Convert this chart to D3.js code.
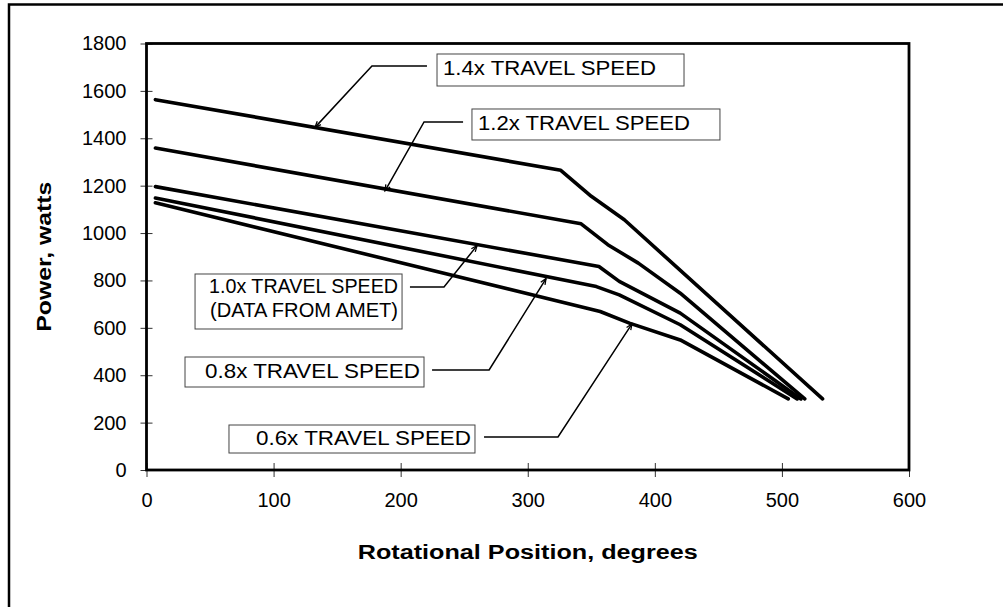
<!DOCTYPE html>
<html lang="en">
<head>
    <meta charset="utf-8">
    <title>Power vs Rotational Position</title>
    <script src="https://d3js.org/d3.v7.min.js"></script>
    <style>
        body { margin: 0; background: #fff; }
        text { font-family: "Liberation Sans", Arial, sans-serif; fill: #000; }
    </style>
</head>

<body>
    <script type="text/javascript">
        // data: [rotational position (deg), power (W)]
        var speed14 = [[7, 1563], [326, 1265], [350, 1155], [376, 1056], [532, 300]];
        var speed12 = [[7, 1359], [342, 1039], [363, 951], [387, 873], [420, 746], [518, 300]];
        var speed10 = [[7, 1196], [356, 859], [372, 796], [420, 662], [515, 300]];
        var speed08 = [[7, 1148], [354, 774], [372, 739], [420, 613], [512, 300]];
        var speed06 = [[7, 1128], [357, 669], [380, 620], [420, 549], [505, 300]];

        var xTicks = [0, 100, 200, 300, 400, 500, 600];
        var yTicks = [0, 200, 400, 600, 800, 1000, 1200, 1400, 1600, 1800];

        // callout boxes and leaders, in data units
        var callouts = [
            { lines: ["1.4x TRAVEL SPEED"], at: [228.6, 1755.7], w: 247, h: 32, align: "start", len: [213], base: [21],
              leader: [[220.7, 1705], [177.4, 1705], [132.6, 1446]] },
            { lines: ["1.2x TRAVEL SPEED"], at: [256.1, 1523.6], w: 248, h: 31, align: "start", len: [212], base: [21],
              leader: [[249.1, 1468.7], [218.4, 1468.7], [187.7, 1178]] },
            { lines: ["1.0x TRAVEL SPEED", "(DATA FROM AMET)"], at: [38.2, 827.2], w: 207, h: 55, align: "end", len: [189, 188], base: [19, 43],
              leader: [[207.3, 772.4], [234.1, 772.4], [260.1, 947]] },
            { lines: ["0.8x TRAVEL SPEED"], at: [30.3, 476.9], w: 239, h: 30, align: "end", len: [215], base: [21],
              leader: [[224.7, 422], [269.6, 422], [314.4, 808]] },
            { lines: ["0.6x TRAVEL SPEED"], at: [64.9, 189.9], w: 246, h: 28, align: "end", len: [215], base: [20],
              leader: [[265.6, 139.3], [323.8, 139.3], [382, 617]] }
        ];

        var w = 1003;
        var h = 607;

        var svg = d3.select("body")
                    .append("svg")
                    .attr("width", w)
                    .attr("height", h);

        // outer frame (runs off the right and bottom edges)
        svg.append("rect")
            .attr("x", 9).attr("y", 4.5)
            .attr("width", 1010).attr("height", 620)
            .attr("fill", "none")
            .attr("stroke", "#000")
            .attr("stroke-width", 2.5);

        var x = d3.scaleLinear().domain([0, 600]).range([146.5, 909]);
        var y = d3.scaleLinear().domain([0, 1800]).range([470, 43.5]);

        svg.append("defs").append("marker")
            .attr("id", "arrow")
            .attr("markerUnits", "userSpaceOnUse")
            .attr("viewBox", "-8 -5 10 10")
            .attr("refX", 0).attr("refY", 0)
            .attr("markerWidth", 10).attr("markerHeight", 10)
            .attr("orient", "auto")
            .append("path")
            .attr("d", "M-6,-2.5L0,0L-6,2.5")
            .attr("fill", "none")
            .attr("stroke", "#000")
            .attr("stroke-width", 1.3);

        //Axes
        var xAxis = svg.append("g")
            .attr("transform", "translate(0," + y(0) + ")")
            .call(d3.axisBottom(x).tickValues(xTicks).tickSize(7).tickPadding(16).tickFormat(d3.format("d")));
        xAxis.select(".domain").remove();
        xAxis.selectAll(".tick line").attr("y1", -7).attr("stroke", "#333");
        xAxis.selectAll(".tick text").style("font-size", "20px").style("font-family", "Liberation Sans, Arial, sans-serif");

        var yAxis = svg.append("g")
            .attr("transform", "translate(" + x(0) + ",0)")
            .call(d3.axisLeft(y).tickValues(yTicks).tickSize(6).tickPadding(14).tickFormat(d3.format("d")));
        yAxis.select(".domain").remove();
        yAxis.selectAll(".tick line").attr("x1", 6).attr("stroke", "#333");
        yAxis.selectAll(".tick text").style("font-size", "20px").style("font-family", "Liberation Sans, Arial, sans-serif");

        // plot frame
        svg.append("rect")
            .attr("x", x(0)).attr("y", y(1800))
            .attr("width", x(600) - x(0)).attr("height", y(0) - y(1800))
            .attr("fill", "none")
            .attr("stroke", "#000")
            .attr("stroke-width", 2.8);

        //Series lines
        var line = d3.line()
                     .x(function(d) { return x(d[0]); })
                     .y(function(d) { return y(d[1]); });

        svg.selectAll("path.series")
            .data([speed14, speed12, speed10, speed08, speed06])
            .enter()
            .append("path")
            .attr("class", "series")
            .attr("d", line)
            .attr("fill", "none")
            .attr("stroke", "#000")
            .attr("stroke-width", 3.6)
            .attr("stroke-linejoin", "round")
            .attr("stroke-linecap", "round");

        //Callouts
        var co = svg.selectAll("g.callout")
            .data(callouts)
            .enter()
            .append("g")
            .attr("class", "callout");

        co.append("path")
            .attr("d", function(d) { return line(d.leader); })
            .attr("fill", "none")
            .attr("stroke", "#000")
            .attr("stroke-width", 1.5)
            .attr("marker-end", "url(#arrow)");

        co.append("rect")
            .attr("x", function(d) { return x(d.at[0]); })
            .attr("y", function(d) { return y(d.at[1]); })
            .attr("width", function(d) { return d.w; })
            .attr("height", function(d) { return d.h; })
            .attr("fill", "#fff")
            .attr("stroke", "#444")
            .attr("stroke-width", 1);

        co.each(function(d) {
            var g = d3.select(this);
            var bx = x(d.at[0]), by = y(d.at[1]);
            d.lines.forEach(function(t, i) {
                g.append("text")
                    .attr("x", d.align === "start" ? bx + 6 : bx + d.w - 4)
                    .attr("y", by + d.base[i])
                    .attr("text-anchor", d.align)
                    .attr("textLength", d.len[i])
                    .attr("lengthAdjust", "spacingAndGlyphs")
                    .style("font-size", "20px")
                    .text(t);
            });
        });

        //Axis titles
        svg.append("text")
            .attr("x", (x(0) + x(600)) / 2)
            .attr("y", 559)
            .attr("text-anchor", "middle")
            .attr("textLength", 340)
            .attr("lengthAdjust", "spacingAndGlyphs")
            .style("font-size", "20px")
            .style("font-weight", "bold")
            .text("Rotational Position, degrees");

        svg.append("text")
            .attr("transform", "translate(51," + (y(0) + y(1800)) / 2 + ") rotate(-90)")
            .attr("text-anchor", "middle")
            .attr("textLength", 150)
            .attr("lengthAdjust", "spacingAndGlyphs")
            .style("font-size", "20px")
            .style("font-weight", "bold")
            .text("Power, watts");
    </script>
</body>
</html>
